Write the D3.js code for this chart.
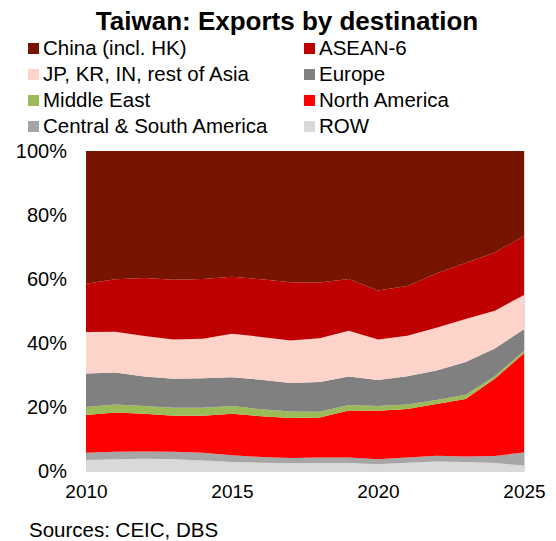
<!DOCTYPE html>
<html>
<head>
<meta charset="utf-8">
<script src="https://cdn.jsdelivr.net/npm/d3@7/dist/d3.min.js"></script>
<style>
  html, body { margin: 0; padding: 0; background: #fff; }
  svg { display: block; font-family: Arial, "Liberation Sans", sans-serif; }
</style>
</head>
<body>
<svg id="chart" width="556" height="541"></svg>
<script>
// Years on the x axis
const years = [2010, 2011, 2012, 2013, 2014, 2015, 2016, 2017, 2018, 2019, 2020, 2021, 2022, 2023, 2024, 2025];

// Share of total exports by destination (%), stacked bottom to top
const row          = [3.4, 3.7, 3.8, 3.7, 3.3, 2.8, 2.6, 2.4, 2.5, 2.5, 2.1, 2.6, 3.0, 2.8, 2.5, 1.7];
const centralSouthAmerica = [2.3, 2.3, 2.3, 2.3, 2.4, 2.1, 1.8, 1.7, 1.7, 1.7, 1.6, 1.6, 1.8, 1.7, 2.2, 4.1];
const northAmerica = [11.8, 12.3, 11.8, 11.3, 11.6, 13.0, 12.7, 12.5, 12.5, 14.7, 15.1, 15.2, 16.1, 18.0, 24.1, 31.0];
const middleEast   = [2.5, 2.5, 2.4, 2.5, 2.5, 2.4, 2.2, 2.0, 1.8, 1.7, 1.5, 1.4, 1.3, 1.3, 0.8, 0.8];
const europe       = [10.5, 10.0, 9.2, 9.0, 9.2, 9.0, 9.2, 8.9, 9.3, 8.9, 8.1, 8.8, 9.2, 10.3, 8.7, 6.7];
const restOfAsia   = [12.9, 12.7, 12.7, 12.3, 12.3, 13.6, 13.4, 13.3, 13.7, 14.3, 12.7, 12.7, 13.4, 13.4, 11.8, 10.7];
const asean6       = [15.1, 16.4, 18.1, 18.7, 18.7, 17.8, 18.0, 18.2, 17.4, 16.2, 15.3, 15.5, 16.9, 17.5, 18.2, 18.4];
const china        = [41.5, 40.1, 39.7, 40.2, 40.0, 39.3, 40.1, 41.0, 41.1, 40.0, 43.6, 42.2, 38.3, 35.0, 31.7, 26.6];

// Series definitions (stack order, bottom first)
const seriesKeys   = ["ROW", "Central & South America", "North America", "Middle East", "Europe", "JP, KR, IN, rest of Asia", "ASEAN-6", "China (incl. HK)"];
const seriesValues = [row, centralSouthAmerica, northAmerica, middleEast, europe, restOfAsia, asean6, china];
const seriesColors = ["#d9d9d9", "#a6a6a6", "#ff0000", "#9bbb59", "#808080", "#fdd3ca", "#c00000", "#771400"];

// Legend order (two columns, row by row)
const legendOrder = ["China (incl. HK)", "ASEAN-6", "JP, KR, IN, rest of Asia", "Europe", "Middle East", "North America", "Central & South America", "ROW"];

// Axis ticks
const xTickYears  = [2010, 2015, 2020, 2025];
const yTickValues = [0, 0.2, 0.4, 0.6, 0.8, 1.0];

const svg = d3.select("#chart");
const margin = { left: 86, right: 32, top: 151, bottom: 70 };
const W = 556, H = 541;
const plotW = W - margin.left - margin.right;
const plotH = H - margin.top - margin.bottom;

const table = years.map((y, i) => {
  const rowObj = { year: y };
  seriesKeys.forEach((k, j) => { rowObj[k] = seriesValues[j][i]; });
  return rowObj;
});

const stack = d3.stack().keys(seriesKeys).offset(d3.stackOffsetExpand);
const stacked = stack(table);

const x = d3.scaleLinear().domain([years[0], years[years.length - 1]]).range([margin.left, margin.left + plotW]);
const y = d3.scaleLinear().domain([0, 1]).range([margin.top + plotH, margin.top]);
const color = d3.scaleOrdinal().domain(seriesKeys).range(seriesColors);

// Title
svg.append("text")
  .attr("x", 287).attr("y", 30)
  .attr("text-anchor", "middle")
  .attr("font-size", 26).attr("font-weight", "bold")
  .text("Taiwan: Exports by destination");

// Legend
const legend = svg.append("g");
legendOrder.forEach((k, i) => {
  const col = i % 2, r = Math.floor(i / 2);
  const lx = col === 0 ? 28 : 304;
  const baseline = 55 + r * 26;
  legend.append("rect")
    .attr("x", lx).attr("y", baseline - 12).attr("width", 11).attr("height", 11)
    .attr("fill", color(k));
  legend.append("text")
    .attr("x", lx + 15).attr("y", baseline)
    .attr("font-size", 20.5)
    .text(k);
});

// Stacked areas
const area = d3.area()
  .x(d => x(d.data.year))
  .y0(d => y(d[0]))
  .y1(d => y(d[1]));

svg.append("g").selectAll("path")
  .data(stacked)
  .join("path")
  .attr("fill", d => color(d.key))
  .attr("d", area);

// Plot frame (bottom and right edges)
svg.append("line")
  .attr("x1", margin.left).attr("x2", margin.left + plotW)
  .attr("y1", y(0) + 0.5).attr("y2", y(0) + 0.5)
  .attr("stroke", "#d9d9d9");
svg.append("line")
  .attr("x1", margin.left + plotW + 0.5).attr("x2", margin.left + plotW + 0.5)
  .attr("y1", y(1)).attr("y2", y(0))
  .attr("stroke", "#d9d9d9");

// Y axis
const yAxis = d3.axisLeft(y).tickValues(yTickValues).tickFormat(d3.format(".0%")).tickSize(0).tickPadding(19);
const gy = svg.append("g").attr("transform", `translate(${margin.left},0)`).call(yAxis);
gy.select(".domain").remove();
gy.selectAll("text").attr("font-size", 20).attr("fill", "#000").attr("font-family", "Arial, 'Liberation Sans', sans-serif");

// X axis
const xAxis = d3.axisBottom(x).tickValues(xTickYears).tickFormat(d3.format("d")).tickSize(0).tickPadding(14);
const gx = svg.append("g").attr("transform", `translate(0,${y(0)})`).call(xAxis);
gx.select(".domain").remove();
gx.selectAll("text").attr("font-size", 19).attr("fill", "#000").attr("font-family", "Arial, 'Liberation Sans', sans-serif");

// Source note
svg.append("text")
  .attr("x", 29).attr("y", 537)
  .attr("font-size", 20.5)
  .text("Sources: CEIC, DBS");
</script>
</body>
</html>
